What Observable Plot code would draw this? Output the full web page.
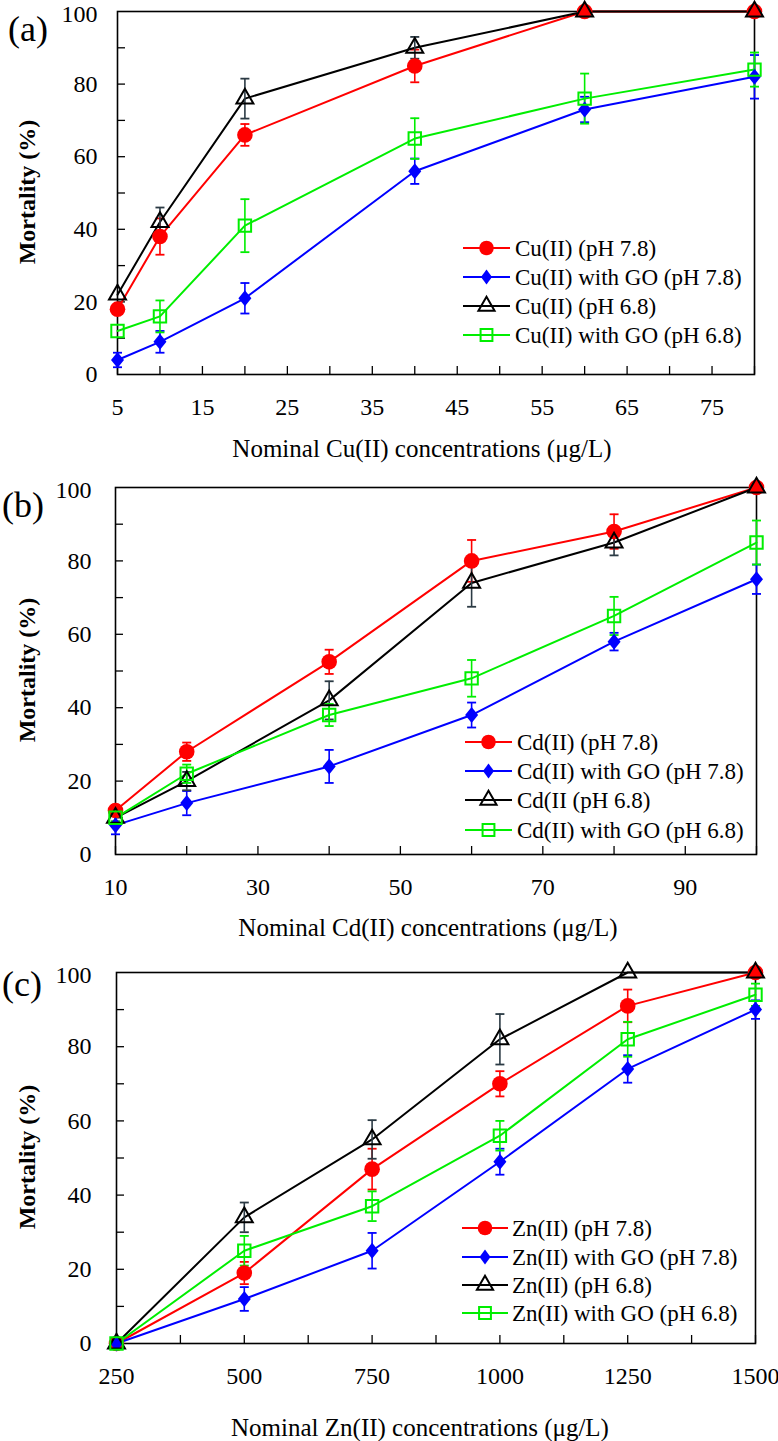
<!DOCTYPE html>
<html><head><meta charset="utf-8">
<script src="https://cdn.jsdelivr.net/npm/d3@7"></script>
<script src="https://cdn.jsdelivr.net/npm/@observablehq/plot@0.6"></script>
<style>
body{margin:0;background:#fff}
#wrap{position:relative;width:778px;height:1441px;overflow:hidden;background:#fff}
.panel{position:absolute;left:0}
#overlay{position:absolute;left:0;top:0;pointer-events:none}
</style>
</head><body><div id="wrap"></div>
<script>
// ---------- data ----------
const seriesKeys = ["ph78", "go78", "ph68", "go68"];

const cuConc = [5, 10, 20, 40, 60, 80];
const cuPh78 = [18, 38, 66, 85, 100, 100];
const cuPh78Err = [0, 5, 3, 4.5, 0, 0];
const cuGo78 = [4, 9, 21, 56, 73, 82];
const cuGo78Err = [2, 3, 4.2, 3.5, 3.5, 6];
const cuPh68 = [22, 42, 76, 90, 100, 100];
const cuPh68Err = [0, 4, 5.5, 3, 0, 0];
const cuGo68 = [12, 16, 41, 65, 76, 84];
const cuGo68Err = [0, 4.4, 7.3, 5.6, 6.9, 4.7];
const cuLegend = ["Cu(II) (pH 7.8)", "Cu(II) with GO (pH 7.8)", "Cu(II) (pH 6.8)", "Cu(II) with GO (pH 6.8)"];
const cuXLabelTicks = [5, 15, 25, 35, 45, 55, 65, 75];
const cuXMinorTicks = [5, 10, 15, 20, 25, 30, 35, 40, 45, 50, 55, 60, 65, 70, 75, 80];

const cdConc = [10, 20, 40, 60, 80, 100];
const cdPh78 = [12, 28, 52.5, 80, 88, 100];
const cdPh78Err = [1.5, 2.5, 3.3, 5.7, 4.7, 0];
const cdGo78 = [8, 14, 24, 38, 58, 75];
const cdGo78Err = [2.5, 3.3, 4.5, 3.4, 2.4, 4];
const cdPh68 = [10, 20, 42, 74, 85, 100];
const cdPh68Err = [1, 2.5, 5.2, 6.5, 3.5, 0];
const cdGo68 = [10, 22, 38, 48, 65, 85];
const cdGo68Err = [1, 2.5, 3, 5, 5.2, 6];
const cdLegend = ["Cd(II)  (pH 7.8)", "Cd(II) with GO (pH 7.8)", "Cd(II (pH 6.8)", "Cd(II) with GO (pH 6.8)"];
const cdXLabelTicks = [10, 30, 50, 70, 90];
const cdXMinorTicks = [10, 20, 30, 40, 50, 60, 70, 80, 90, 100];

const znConc = [250, 500, 750, 1000, 1250, 1500];
const znPh78 = [0, 19, 47, 70, 91, 100];
const znPh78Err = [0, 3, 5.5, 3.4, 4.4, 0];
const znGo78 = [0, 12, 25, 49, 74, 90];
const znGo78Err = [0, 3.2, 4.8, 3.5, 3.7, 2.5];
const znPh68 = [0, 34, 55, 82, 100, 100];
const znPh68Err = [0, 4, 5.2, 6.8, 0, 0];
const znGo68 = [0, 25, 37, 56, 82, 94];
const znGo68Err = [0, 4, 4, 4, 4.7, 3];
const znLegend = ["Zn(II) (pH 7.8)", "Zn(II) with GO (pH 7.8)", "Zn(II) (pH 6.8)", "Zn(II) with GO (pH 6.8)"];
const znXLabelTicks = [250, 500, 750, 1000, 1250, 1500];
const znXMinorTicks = [250, 375, 500, 625, 750, 875, 1000, 1125, 1250, 1375, 1500];

const yLabelTicksLow = [0, 20, 40, 60, 80];
const yLabelTicksTop = [100];
const yMinorTicks = [10, 20, 30, 40, 50, 60, 70, 80, 90];

const panelLetters = ["(a)", "(b)", "(c)"];
const xTitles = ["Nominal Cu(II) concentrations (\u03bcg/L)", "Nominal Cd(II) concentrations (\u03bcg/L)", "Nominal Zn(II) concentrations (\u03bcg/L)"];
const yTitle = "Mortality (%)";

// ---------- styles ----------
const FONT = "'Liberation Serif', 'Times New Roman', serif";
const RED = "#ff0000", BLUE = "#0000ff", BLACK = "#000000", GREEN = "#00ee00";
const rhombus = {draw(ctx) { ctx.moveTo(0, -8); ctx.lineTo(6.5, 0); ctx.lineTo(0, 8); ctx.lineTo(-6.5, 0); ctx.closePath(); }};
const capSym = {draw(ctx) { ctx.moveTo(-4.5, 0); ctx.lineTo(4.5, 0); }};
const styles = [
  {color: RED, err: RED, symbol: "circle", r: 7.8, fill: RED, stroke: "none", sw: 0},
  {color: BLUE, err: BLUE, symbol: rhombus, r: 5, fill: BLUE, stroke: "none", sw: 0},
  {color: BLACK, err: "#2b3a44", symbol: "triangle", r: 6.3, fill: "none", stroke: BLACK, sw: 2},
  {color: GREEN, err: GREEN, symbol: "square", r: 7, fill: "none", stroke: GREEN, sw: 2}
];

const panels = [
  {conc: cuConc, vals: [cuPh78, cuGo78, cuPh68, cuGo68], errs: [cuPh78Err, cuGo78Err, cuPh68Err, cuGo68Err],
   legend: cuLegend, xLabelTicks: cuXLabelTicks, xMinor: cuXMinorTicks, xDomain: [5, 80],
   top: 0, height: 464, mt: 11, ih: 363, ml: 117, mr: 24, yPad: 20,
   letter: [8, 29], yTitleY: 192, xTitle: [422, 448], legendRows: [248, 277, 306, 335], legendX: [463, 510, 515]},
  {conc: cdConc, vals: [cdPh78, cdGo78, cdPh68, cdGo68], errs: [cdPh78Err, cdGo78Err, cdPh68Err, cdGo68Err],
   legend: cdLegend, xLabelTicks: cdXLabelTicks, xMinor: cdXMinorTicks, xDomain: [10, 100],
   top: 470, height: 464, mt: 17, ih: 367, ml: 115, mr: 22, yPad: 24,
   letter: [2, 505], yTitleY: 670, xTitle: [428, 927], legendRows: [742, 771, 800, 830], legendX: [465, 512, 517]},
  {conc: znConc, vals: [znPh78, znGo78, znPh68, znGo68], errs: [znPh78Err, znGo78Err, znPh68Err, znGo68Err],
   legend: znLegend, xLabelTicks: znXLabelTicks, xMinor: znXMinorTicks, xDomain: [250, 1500],
   top: 940, height: 501, mt: 32, ih: 371, ml: 116, mr: 23, yPad: 25,
   letter: [2, 984], yTitleY: 1157, xTitle: [420, 1427], legendRows: [1228, 1257, 1285, 1313], legendX: [462, 508, 512]}
];

const wrap = document.getElementById("wrap");

panels.forEach((p) => {
  const iw = 778 - p.ml - p.mr;
  const tickLenY = 8 / p.ih * 100;               // inward x-tick length in y units
  const tickLenX = 8 / iw * (p.xDomain[1] - p.xDomain[0]); // inward y-tick length in x units
  const marks = [
    Plot.frame({stroke: "black", strokeWidth: 1.6}),
    Plot.axisX({ticks: p.xLabelTicks, tickSize: 0, tickPadding: 23, fontSize: 24, label: null, tickFormat: d => String(d)}),
    Plot.axisY({ticks: yLabelTicksLow, tickSize: 0, tickPadding: p.yPad, fontSize: 24, label: null, tickFormat: d => String(d)}),
    Plot.axisY({ticks: yLabelTicksTop, tickSize: 0, tickPadding: p.yPad, fontSize: 24, label: null, dy: 3, tickFormat: d => String(d)}),
    Plot.ruleX(p.xMinor, {x: d => d, y1: 0, y2: tickLenY, stroke: "black", strokeWidth: 1.3}),
    Plot.ruleY(yMinorTicks, {y: d => d, x1: p.xDomain[0], x2: p.xDomain[0] + tickLenX, stroke: "black", strokeWidth: 1.3})
  ];
  seriesKeys.forEach((k, si) => {
    const st = styles[si];
    const rows = p.conc.map((x, i) => ({x, y: p.vals[si][i], e: p.errs[si][i]}));
    const eb = rows.filter(d => d.e > 0);
    marks.push(
      Plot.line(rows, {x: "x", y: "y", stroke: st.color, strokeWidth: 2}),
      Plot.ruleX(eb, {x: "x", y1: d => d.y - d.e, y2: d => d.y + d.e, stroke: st.err, strokeWidth: 1.6}),
      Plot.dot(eb, {x: "x", y: d => d.y - d.e, symbol: capSym, r: 4, fill: "none", stroke: st.err, strokeWidth: 1.8}),
      Plot.dot(eb, {x: "x", y: d => d.y + d.e, symbol: capSym, r: 4, fill: "none", stroke: st.err, strokeWidth: 1.8})
    );
  });
  seriesKeys.forEach((k, si) => {
    const st = styles[si];
    const rows = p.conc.map((x, i) => ({x, y: p.vals[si][i]}));
    marks.push(Plot.dot(rows, {x: "x", y: "y", symbol: st.symbol, r: st.r, fill: st.fill, stroke: st.stroke, strokeWidth: st.sw}));
  });
  const chart = Plot.plot({
    width: 778, height: p.height,
    marginTop: p.mt, marginBottom: p.height - p.mt - p.ih, marginLeft: p.ml, marginRight: p.mr,
    x: {domain: p.xDomain},
    y: {domain: [0, 100]},
    style: {fontFamily: FONT, fontSize: "24px", color: "black", background: "transparent", overflow: "visible"},
    marks
  });
  chart.classList.add("panel");
  chart.style.top = p.top + "px";
  wrap.appendChild(chart);
});

// ---------- overlay texts & legends ----------
const NS = "http://www.w3.org/2000/svg";
const ov = document.createElementNS(NS, "svg");
ov.setAttribute("id", "overlay");
ov.setAttribute("width", 778);
ov.setAttribute("height", 1441);
ov.style.fontFamily = FONT;
wrap.appendChild(ov);
function el(tag, attrs, text) {
  const e = document.createElementNS(NS, tag);
  for (const a in attrs) e.setAttribute(a, attrs[a]);
  if (text != null) e.textContent = text;
  ov.appendChild(e);
  return e;
}
const legendSymbols = [
  {path: d3.symbol(d3.symbolCircle, Math.PI * 7.3 * 7.3)(), fill: RED, stroke: "none", sw: 0},
  {path: "M0,-7.5L5.5,0L0,7.5L-5.5,0Z", fill: BLUE, stroke: "none", sw: 0},
  {path: d3.symbol(d3.symbolTriangle, Math.PI * 6 * 6)(), fill: "none", stroke: BLACK, sw: 2},
  {path: d3.symbol(d3.symbolSquare, 140)(), fill: "none", stroke: GREEN, sw: 2}
];
panels.forEach((p, pi) => {
  el("text", {x: p.letter[0], y: p.letter[1], "font-size": 36, "dominant-baseline": "central"}, panelLetters[pi]);
  el("text", {x: 0, y: 0, "font-size": 24, "font-weight": "bold", "text-anchor": "middle", "dominant-baseline": "central",
    transform: `translate(27,${p.yTitleY}) rotate(-90)`}, yTitle);
  el("text", {x: p.xTitle[0], y: p.xTitle[1], "font-size": 25, "text-anchor": "middle", "dominant-baseline": "central"}, xTitles[pi]);
  p.legend.forEach((lab, i) => {
    const y = p.legendRows[i];
    const [x1, x2, tx] = p.legendX;
    const ls = legendSymbols[i];
    el("line", {x1, x2, y1: y, y2: y, stroke: styles[i].color, "stroke-width": 2});
    el("path", {d: ls.path, transform: `translate(${(x1 + x2) / 2},${y})`, fill: ls.fill, stroke: ls.stroke, "stroke-width": ls.sw});
    el("text", {x: tx, y, "font-size": 23, "dominant-baseline": "central"}, lab);
  });
});
</script>
</body></html>
